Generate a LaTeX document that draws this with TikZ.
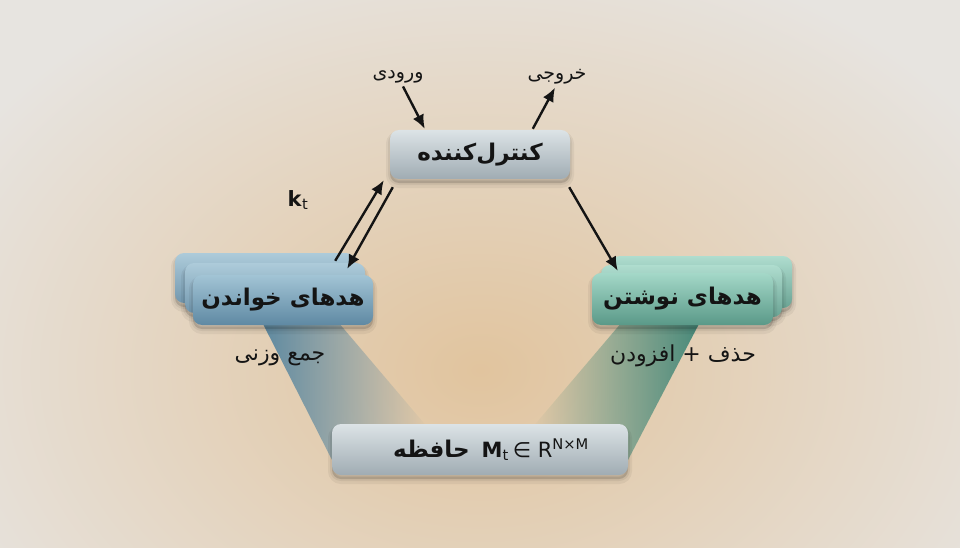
\documentclass[tikz,border=0pt]{standalone}
\usepackage{fontspec}
\setmainfont{DejaVu Sans}
\newfontfamily\fa[Script=Arabic]{DejaVu Sans}
\newfontfamily\la{DejaVu Sans}
\TeXXeTstate=1
\usetikzlibrary{arrows.meta,fadings}
\definecolor{bgout}{RGB}{231,228,224}
\definecolor{bgin}{RGB}{225,196,158}
\definecolor{boxtop}{RGB}{220,227,230}
\definecolor{boxmid}{RGB}{205,214,218}
\definecolor{boxbot}{RGB}{160,172,179}
\definecolor{readtop}{RGB}{162,196,213}
\definecolor{readmid}{RGB}{128,168,192}
\definecolor{readbot}{RGB}{95,137,163}
\definecolor{writetop}{RGB}{164,216,200}
\definecolor{writemid}{RGB}{124,190,172}
\definecolor{writebot}{RGB}{90,153,136}
\definecolor{readbeam}{RGB}{80,130,158}
\definecolor{writebeam}{RGB}{55,130,115}
\definecolor{ink}{RGB}{20,20,20}
\tikzset{
  basebox/.style={rounded corners=9pt, inner sep=0pt, text=ink,
    font=\fa\bfseries\fontsize{23}{27}\selectfont,
    preaction={draw=black, draw opacity=0.05, line width=8pt, transform canvas={yshift=-5pt}},
    preaction={draw=black, draw opacity=0.06, line width=4pt, transform canvas={yshift=-4pt}},
    preaction={fill=black, fill opacity=0.14, transform canvas={yshift=-4pt}}},
  greybox/.style={basebox, top color=boxtop, middle color=boxmid, bottom color=boxbot},
  readbox/.style={basebox, top color=readtop, middle color=readmid, bottom color=readbot},
  readback/.style={basebox, top color=readtop!88!white, middle color=readmid!88!white, bottom color=readbot!88!white},
  writebox/.style={basebox, top color=writetop, middle color=writemid, bottom color=writebot},
  writeback/.style={basebox, top color=writetop!88!white, middle color=writemid!90!white, bottom color=writebot!90!white},
  lbl/.style={inner sep=0pt, text=ink, font=\fa\fontsize{19}{22}\selectfont},
  biglbl/.style={lbl, font=\fa\fontsize{22}{26}\selectfont},
  arr/.style={draw=ink, line width=2.4pt, -{Latex[length=14pt,width=12pt]}},
}
\begin{document}
\begin{tikzpicture}[x=1pt,y=-1pt]
\useasboundingbox (0,0) rectangle (960,548);
% background
\fill[bgout] (0,0) rectangle (960,548);
\begin{scope}
\clip (0,0) rectangle (960,548);
\shade[inner color=bgin, outer color=bgout] (480,370) ellipse [x radius=600pt, y radius=440pt];
\end{scope}
% beams
\fill[readbeam, fill opacity=0.9, path fading=east] (262,322) -- (338,322) -- (428,428) -- (332,460) -- cycle;
\fill[writebeam, fill opacity=0.9, path fading=west] (622,322) -- (700,322) -- (628,460) -- (532,428) -- cycle;
% boxes
\node[greybox, minimum width=180pt, minimum height=49pt] (ctrl) at (480,154.5) {\beginR کنترل‌کننده\endR};
\node[readback, minimum width=180pt, minimum height=50pt] (readC) at (265,278) {};
\node[readback, minimum width=180pt, minimum height=50pt] (readB) at (275,288) {};
\node[readbox, minimum width=180pt, minimum height=50pt] (readA) at (283,300) {\beginR هدهای خواندن\endR};
\node[writeback, minimum width=181pt, minimum height=52pt] (writeC) at (701.5,282) {};
\node[writeback, minimum width=181pt, minimum height=52pt] (writeB) at (691.5,291) {};
\node[writebox, minimum width=181pt, minimum height=52pt] (writeA) at (682.5,299) {\beginR هدهای نوشتن\endR};
\node[greybox, minimum width=296pt, minimum height=51pt] (mem) at (480,449.5)
  {\hspace*{22pt}\beginR حافظه\endR\hspace{12pt}{\la\fontsize{21}{25}\selectfont\bfseries M\textsubscript{\mdseries t}\hspace{4pt}\mdseries ∈ R\textsuperscript{N×M}}};
% labels
\node[lbl] (in) at (398,77) {\beginR ورودی\endR};
\node[lbl] (out) at (557,77) {\beginR خروجی\endR};
\node[lbl, font=\la\fontsize{21}{25}\selectfont] (kt) at (298,200) {\textbf{k}\textsubscript{t}};
\node[biglbl] (rsum) at (280,358) {\beginR جمع وزنی\endR};
\node[biglbl] (wsum) at (683,356) {\beginR حذف + افزودن\endR};
% arrows
\draw[arr] ([shift={(5,3)}]in.south) -- ([shift={(35,-1)}]ctrl.north west);
\draw[arr] ([shift={(143,-1)}]ctrl.north west) -- ([shift={(-2,3)}]out.south);
\draw[arr] ([shift={(-38,-14)}]readA.north east) -- ([shift={(-6,1)}]ctrl.south west);
\draw[arr] ([shift={(3,8)}]ctrl.south west) -- ([shift={(-26,-6)}]readA.north east);
\draw[arr] ([shift={(-1,8)}]ctrl.south east) -- ([shift={(26,-2)}]writeA.north west);
\end{tikzpicture}
\end{document}
